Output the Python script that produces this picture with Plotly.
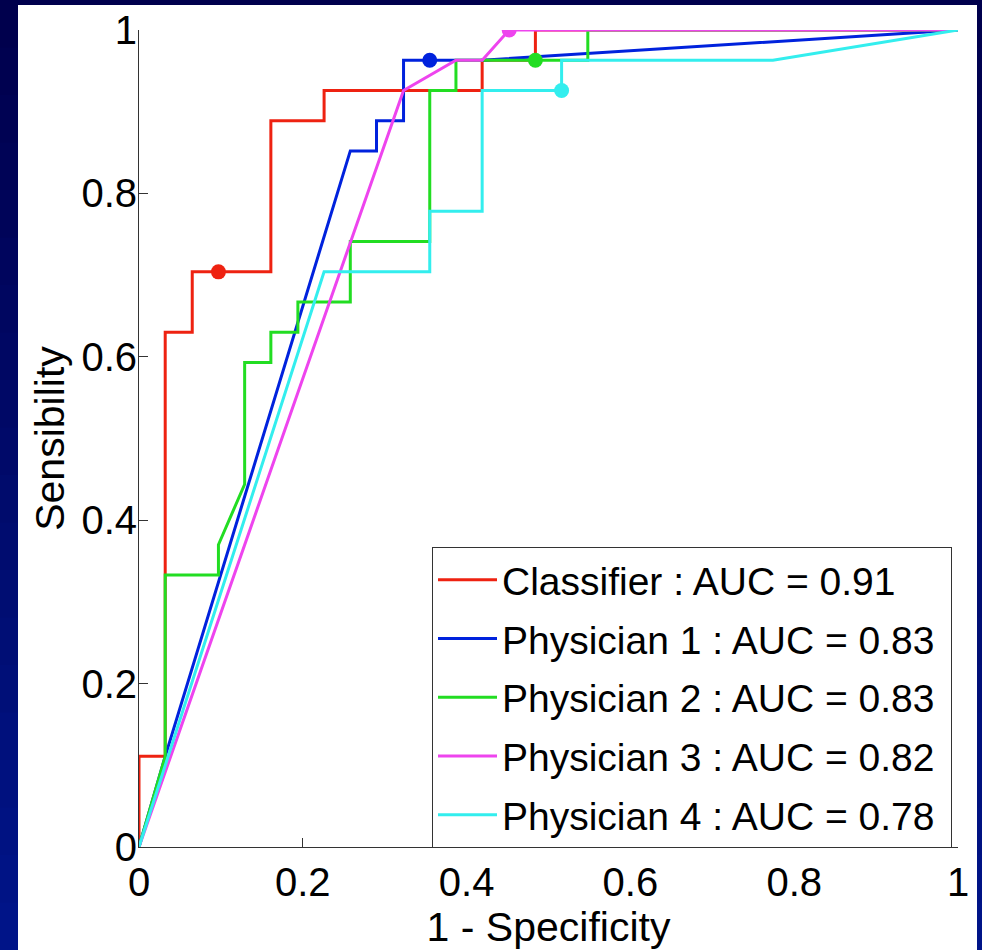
import plotly.graph_objects as go

# ---------------- data ----------------
series_names = [
    "Classifier : AUC = 0.91",
    "Physician 1 : AUC = 0.83",
    "Physician 2 : AUC = 0.83",
    "Physician 3 : AUC = 0.82",
    "Physician 4 : AUC = 0.78",
]

fpr_classifier = [0, 0, 0.032, 0.032, 0.065, 0.065, 0.161, 0.161, 0.226, 0.226, 0.419, 0.419, 0.484, 0.484, 1]
tpr_classifier = [0, 0.111, 0.111, 0.630, 0.630, 0.704, 0.704, 0.889, 0.889, 0.926, 0.926, 0.963, 0.963, 1, 1]

fpr_p1 = [0, 0.032, 0.258, 0.290, 0.290, 0.323, 0.323, 0.419, 1]
tpr_p1 = [0, 0.111, 0.852, 0.852, 0.889, 0.889, 0.963, 0.963, 1]

fpr_p2 = [0, 0.032, 0.032, 0.097, 0.097, 0.129, 0.129, 0.161, 0.161, 0.194, 0.194,
          0.258, 0.258, 0.355, 0.355, 0.387, 0.387, 0.548, 0.548, 1]
tpr_p2 = [0, 0.111, 0.333, 0.333, 0.370, 0.444, 0.593, 0.593, 0.630, 0.630, 0.667,
          0.667, 0.741, 0.741, 0.926, 0.926, 0.963, 0.963, 1, 1]

fpr_p3 = [0, 0.323, 0.387, 0.419, 0.452, 1]
tpr_p3 = [0, 0.926, 0.963, 0.963, 1, 1]

fpr_p4 = [0, 0.226, 0.355, 0.355, 0.419, 0.419, 0.516, 0.516, 0.774, 1]
tpr_p4 = [0, 0.704, 0.704, 0.778, 0.778, 0.926, 0.926, 0.963, 0.963, 1]

# operating points (dots)
op_fpr = [0.097, 0.355, 0.484, 0.452, 0.516]
op_tpr = [0.704, 0.963, 0.963, 1.000, 0.926]

tick_vals = [0, 0.2, 0.4, 0.6, 0.8, 1]
tick_text = ["0", "0.2", "0.4", "0.6", "0.8", "1"]

# ---------------- style ----------------
colors = ["#ee2211", "#0022dd", "#22dd22", "#ee44ee", "#33eeee"]
FONT = "Liberation Sans, Arial, Helvetica, sans-serif"

curves = [
    (fpr_classifier, tpr_classifier),
    (fpr_p1, tpr_p1),
    (fpr_p2, tpr_p2),
    (fpr_p3, tpr_p3),
    (fpr_p4, tpr_p4),
]

fig = go.Figure()
for i, ((fx, ty), name) in enumerate(zip(curves, series_names)):
    fig.add_trace(go.Scatter(
        x=fx, y=ty, mode="lines", name=name + "\u00a0",
        line=dict(color=colors[i], width=3),
        legendgroup="g%d" % i,
    ))
for i in range(len(op_fpr)):
    fig.add_trace(go.Scatter(
        x=[op_fpr[i]], y=[op_tpr[i]], mode="markers",
        marker=dict(color=colors[i], size=15),
        showlegend=False, hoverinfo="skip", legendgroup="g%d" % i,
    ))

# background: dark blue gradient frame + white slide area
L, R, T, B = 139, 24, 30, 103
PW = 982 - L - R
PH = 950 - T - B
def px_x(p):
    return (p - L) / float(PW)
def px_y(p):
    return (950 - B - p) / float(PH)

shapes = []
nb = 20
top_c = (0x00, 0x00, 0x4d)
bot_c = (0x00, 0x14, 0x88)
H = 950.0
for k in range(nb):
    t = k / (nb - 1)
    c = tuple(int(round(top_c[j] + (bot_c[j] - top_c[j]) * t)) for j in range(3))
    shapes.append(dict(
        type="rect", xref="paper", yref="paper", layer="below",
        x0=px_x(0), x1=px_x(982),
        y0=px_y(H * (k + 1) / nb + 1), y1=px_y(H * k / nb),
        fillcolor="rgb(%d,%d,%d)" % c, line=dict(width=0),
    ))
shapes.append(dict(
    type="rect", xref="paper", yref="paper", layer="below",
    x0=px_x(18), x1=px_x(977), y0=px_y(952), y1=px_y(5),
    fillcolor="white", line=dict(width=0),
))

axis_common = dict(
    range=[0, 1], tickvals=tick_vals, ticktext=tick_text,
    ticks="inside", ticklen=9, tickwidth=1, tickcolor="#333333",
    showline=True, linecolor="#333333", linewidth=1,
    showgrid=False, zeroline=False, mirror=False, automargin=False,
    tickfont=dict(family=FONT, size=40, color="black"),
)

fig.update_layout(
    width=982, height=950,
    margin=dict(l=L, r=R, t=T, b=B),
    paper_bgcolor="#000a6a",
    plot_bgcolor="white",
    shapes=shapes,
    xaxis=dict(axis_common, ticklabelstandoff=0,
               title=dict(text="1 - Specificity",
                          font=dict(family=FONT, size=41, color="black"), standoff=12)),
    yaxis=dict(axis_common, ticklabelstandoff=-7,
               title=dict(text="Sensibility",
                          font=dict(family=FONT, size=41, color="black"), standoff=4)),
    legend=dict(
        x=px_x(432), y=px_y(547),
        xanchor="left", yanchor="top",
        bgcolor="white", bordercolor="#333333", borderwidth=1,
        font=dict(family=FONT, size=39, color="black"),
        itemwidth=59, tracegroupgap=5,
        traceorder="grouped",
    ),
    showlegend=True,
)

fig.write_html("out.html", config={"displayModeBar": False},
               post_script="document.body.style.margin='0';document.body.style.overflow='hidden';")
